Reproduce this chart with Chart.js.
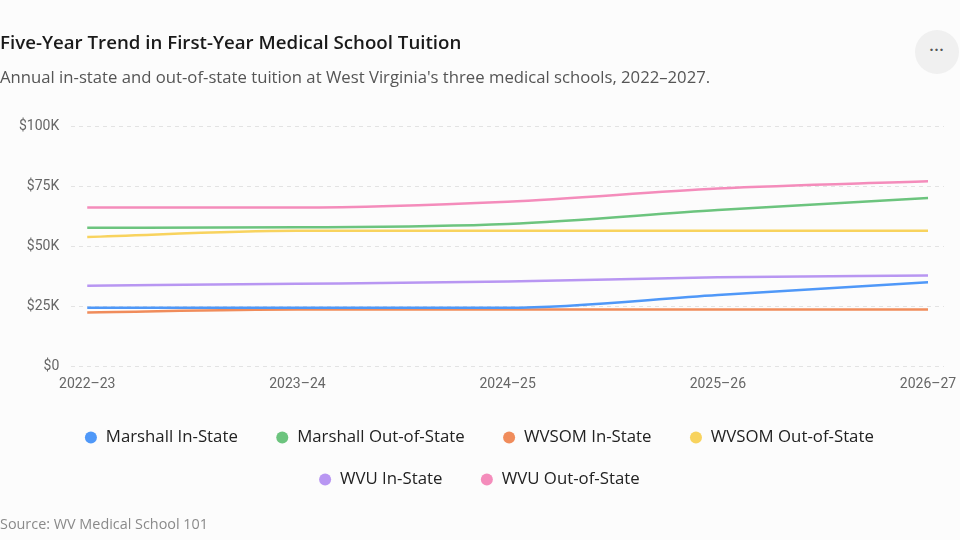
<!DOCTYPE html>
<html lang="en">
<head>
  <meta charset="UTF-8">
  <title>Medical School Tuition Trend</title>
  <style>
    html, body {
      margin: 0;
      padding: 0;
      background: #fcfcfc;
      font-family: "Open Sans", "Noto Sans", sans-serif;
    }
    #wrap {
      position: relative;
      width: 960px;
      height: 540px;
      overflow: hidden;
    }
    #title, #subtitle, #source {
      position: absolute;
      left: 0;
      line-height: 24px;
      white-space: nowrap;
    }
    #title {
      top: 30px;
      font-size: 18.7px;
      font-weight: 600;
      color: #1a1a1a;
    }
    #subtitle {
      top: 65px;
      font-size: 16.7px;
      color: #555;
    }
    #source {
      top: 512px;
      font-size: 14.4px;
      color: #8a8a8a;
    }
    #more {
      position: absolute;
      left: 915px;
      top: 30px;
      width: 44px;
      height: 44px;
      border-radius: 50%;
      background: #f0f0f0;
      color: #555;
      font-size: 14px;
      font-weight: bold;
      line-height: 40px;
      text-align: center;
      letter-spacing: 1px;
    }
    #chartBox {
      position: absolute;
      left: 0;
      top: 0;
      width: 960px;
      height: 540px;
    }
  </style>
</head>
<body>
  <div id="wrap">
    <div id="chartBox"><canvas id="chart"></canvas></div>
    <div id="title">Five-Year Trend in First-Year Medical School Tuition</div>
    <div id="subtitle">Annual in-state and out-of-state tuition at West Virginia's three medical schools, 2022–2027.</div>
    <div id="source">Source: WV Medical School 101</div>
    <div id="more">···</div>
  </div>

  <script src="https://cdn.jsdelivr.net/npm/chart.js"></script>
  <script>
    // academic years on the x axis
    const years = ['2022–23', '2023–24', '2024–25', '2025–26', '2026–27'];

    // tuition in dollars
    const marshallIn = [24300, 24300, 24300, 29600, 34900];
    const marshallOut = [57600, 57800, 59200, 65000, 70000];
    const wvsomIn = [22400, 23600, 23600, 23600, 23600];
    const wvsomOut = [53800, 56400, 56400, 56400, 56400];
    const wvuIn = [33500, 34300, 35300, 37000, 37800];
    const wvuOut = [66100, 66100, 68500, 74000, 77000];

    const yTicks = [0, 25000, 50000, 75000, 100000];

    const series = [
      { name: 'Marshall In-State', values: marshallIn, color: '#4f98f8' },
      { name: 'Marshall Out-of-State', values: marshallOut, color: '#6cc47e' },
      { name: 'WVSOM In-State', values: wvsomIn, color: '#f08c5b' },
      { name: 'WVSOM Out-of-State', values: wvsomOut, color: '#f8d35e' },
      { name: 'WVU In-State', values: wvuIn, color: '#b896f2' },
      { name: 'WVU Out-of-State', values: wvuOut, color: '#f48cbb' }
    ];

    const tickFont = { family: 'Roboto, "Noto Sans", sans-serif', size: 14 };

    function money(v) {
      return v === 0 ? '$0' : '$' + (v / 1000) + 'K';
    }

    // the legend box is off-centre because of the uneven side padding; nudge it back
    const legendShift = {
      id: 'legendShift',
      afterLayout(chart) {
        chart.legend.left += 10;
        chart.legend.right += 10;
      }
    };

    const ctx = document.getElementById('chart').getContext('2d');
    new Chart(ctx, {
      type: 'line',
      data: {
        datasets: series.map(s => ({
          label: s.name,
          data: s.values.map((v, i) => ({ x: i, y: v })),
          borderColor: s.color,
          backgroundColor: s.color,
          borderWidth: 2.5,
          pointRadius: 0,
          pointHoverRadius: 0,
          pointStyle: 'circle',
          cubicInterpolationMode: 'monotone',
          fill: false
        }))
      },
      plugins: [legendShift],
      options: {
        responsive: true,
        maintainAspectRatio: false,
        animation: false,
        layout: {
          padding: { top: 126, right: 16, bottom: 42, left: 7 }
        },
        plugins: {
          title: { display: false },
          tooltip: { enabled: false },
          legend: {
            position: 'bottom',
            labels: {
              usePointStyle: true,
              boxWidth: 13,
              boxHeight: 8.5,
              padding: 25.2,
              color: '#222',
              font: { family: '"Open Sans", "Noto Sans", sans-serif', size: 16.8 },
              generateLabels(chart) {
                return chart.data.datasets.map((ds, i) => ({
                  text: ds.label + '\u2002 ',
                  fillStyle: ds.backgroundColor,
                  strokeStyle: ds.borderColor,
                  lineWidth: 0,
                  pointStyle: 'circle',
                  fontColor: '#222',
                  hidden: false,
                  datasetIndex: i
                }));
              }
            }
          }
        },
        scales: {
          x: {
            type: 'linear',
            min: -0.076,
            max: 4.076,
            grid: { display: false },
            border: { display: false },
            afterFit: axis => { axis.height += 9; },
            ticks: {
              stepSize: 1,
              includeBounds: false,
              autoSkip: false,
              maxRotation: 0,
              padding: 2,
              color: '#666',
              font: tickFont,
              callback: v => years[v] || ''
            }
          },
          y: {
            min: yTicks[0],
            max: yTicks[yTicks.length - 1],
            afterBuildTicks: axis => { axis.ticks = yTicks.map(v => ({ value: v })); },
            grid: {
              color: '#e3e3e3',
              lineWidth: 1,
              drawTicks: false
            },
            border: { display: false, dash: [4, 4] },
            ticks: {
              padding: 12,
              color: '#666',
              font: tickFont,
              callback: v => money(v)
            }
          }
        }
      }
    });
  </script>
</body>
</html>
